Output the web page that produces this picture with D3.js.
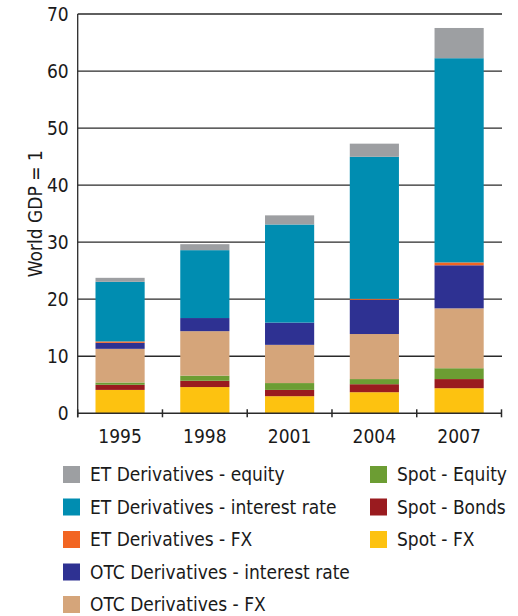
<!DOCTYPE html>
<html>
<head>
<meta charset="utf-8">
<script src="https://cdn.jsdelivr.net/npm/d3@7"></script>
<style>
  html, body { margin: 0; padding: 0; background: #fff; }
  svg { display: block; }
  text { font-family: "DejaVu Sans Condensed", "DejaVu Sans", sans-serif; fill: #1a1a1a; }
</style>
</head>
<body>
<svg id="chart" width="518" height="616"></svg>
<script>
// ---- data ----
const years = ["1995", "1998", "2001", "2004", "2007"];
const spotFX        = [4.1, 4.6, 3.0, 3.7, 4.4];
const spotBonds     = [0.9, 1.1, 1.1, 1.4, 1.6];
const spotEquity    = [0.4, 0.9, 1.2, 0.9, 1.9];
const otcFX         = [5.9, 7.8, 6.7, 7.9, 10.5];
const otcIR         = [1.05, 2.3, 3.9, 6.0, 7.55];
const etFX          = [0.25, 0.0, 0.0, 0.17, 0.5];
const etIR          = [10.45, 11.9, 17.2, 24.9, 35.8];
const etEquity      = [0.7, 1.05, 1.6, 2.3, 5.3];
const yTicks = [0, 10, 20, 30, 40, 50, 60, 70];

const seriesNames = [
  "Spot - FX", "Spot - Bonds", "Spot - Equity",
  "OTC Derivatives - FX", "OTC Derivatives - interest rate",
  "ET Derivatives - FX", "ET Derivatives - interest rate", "ET Derivatives - equity"
];
const seriesValues = [spotFX, spotBonds, spotEquity, otcFX, otcIR, etFX, etIR, etEquity];
const seriesColors = ["#fdc210", "#9a1b1f", "#6c9d33", "#d5a57a", "#2e3192", "#f26522", "#008db1", "#9d9fa2"];

const legendCol1 = ["ET Derivatives - equity", "ET Derivatives - interest rate", "ET Derivatives - FX",
                    "OTC Derivatives - interest rate", "OTC Derivatives - FX"];
const legendCol2 = ["Spot - Equity", "Spot - Bonds", "Spot - FX"];

// ---- build table ----
const table = years.map((yr, i) => {
  const row = { year: yr };
  seriesNames.forEach((s, k) => row[s] = seriesValues[k][i]);
  return row;
});
const stacked = d3.stack().keys(seriesNames)(table);
const color = d3.scaleOrdinal().domain(seriesNames).range(seriesColors);

const svg = d3.select("#chart");
const mLeft = 77.7, mRight = 501.5, mTop = 14, mBottom = 413.3;

const x = d3.scaleBand().domain(years).range([mLeft, mRight]).paddingInner(0.42).paddingOuter(0.21);
const y = d3.scaleLinear().domain([0, 70]).range([mBottom, mTop]);

// grid lines
svg.append("g").selectAll("line").data(yTicks.filter(d => d > 0)).join("line")
  .attr("x1", mLeft).attr("x2", mRight + 0.5)
  .attr("y1", d => y(d)).attr("y2", d => y(d))
  .attr("stroke", "#2a2a2a").attr("stroke-width", 1.3);

// bars
svg.append("g").selectAll("g").data(stacked).join("g")
  .attr("fill", d => color(d.key))
  .selectAll("rect").data(d => d).join("rect")
  .attr("x", d => x(d.data.year))
  .attr("width", x.bandwidth())
  .attr("y", d => y(d[1]))
  .attr("height", d => Math.max(0, y(d[0]) - y(d[1])));

// y axis
const yAxis = d3.axisLeft(y).tickValues(yTicks).tickSize(0).tickPadding(9);
const gy = svg.append("g").attr("transform", `translate(${mLeft},0)`).call(yAxis);
gy.select(".domain").remove();
gy.attr("font-family", null).attr("font-size", null);
gy.selectAll("text").attr("font-size", 19);
svg.append("line").attr("x1", mLeft).attr("x2", mLeft).attr("y1", mTop).attr("y2", mBottom + 4)
  .attr("stroke", "#2a2a2a").attr("stroke-width", 1.3);

// x axis
const xAxis = d3.axisBottom(x).tickSize(0).tickPadding(16);
const gx = svg.append("g").attr("transform", `translate(0,${mBottom})`).call(xAxis);
gx.select(".domain").remove();
gx.attr("font-family", null).attr("font-size", null);
gx.selectAll("text").attr("font-size", 19);
svg.append("line").attr("x1", mLeft).attr("x2", mRight).attr("y1", mBottom).attr("y2", mBottom)
  .attr("stroke", "#2a2a2a").attr("stroke-width", 1.5);
const boundaries = years.map(d => x(d) - x.step() * x.paddingInner() / 2).concat([mRight]);
svg.append("g").selectAll("line").data(boundaries).join("line")
  .attr("x1", d => d).attr("x2", d => d)
  .attr("y1", mBottom - 4).attr("y2", mBottom + 4)
  .attr("stroke", "#2a2a2a").attr("stroke-width", 1.5);

// y label
svg.append("text")
  .attr("transform", `translate(42,${(mTop + mBottom) / 2}) rotate(-90)`)
  .attr("text-anchor", "middle")
  .attr("font-size", 19)
  .text("World GDP = 1");

// legend
const legend = svg.append("g");
function legendColumn(names, x0, y0) {
  const g = legend.append("g").attr("transform", `translate(${x0},${y0})`);
  const items = g.selectAll("g").data(names).join("g")
    .attr("transform", (d, i) => `translate(0,${i * 32.5})`);
  items.append("rect").attr("width", 17).attr("height", 17).attr("fill", d => color(d));
  items.append("text").attr("x", 27).attr("y", 15).attr("font-size", 19).text(d => d);
}
legendColumn(legendCol1, 63, 466);
legendColumn(legendCol2, 370, 466);
</script>
</body>
</html>
